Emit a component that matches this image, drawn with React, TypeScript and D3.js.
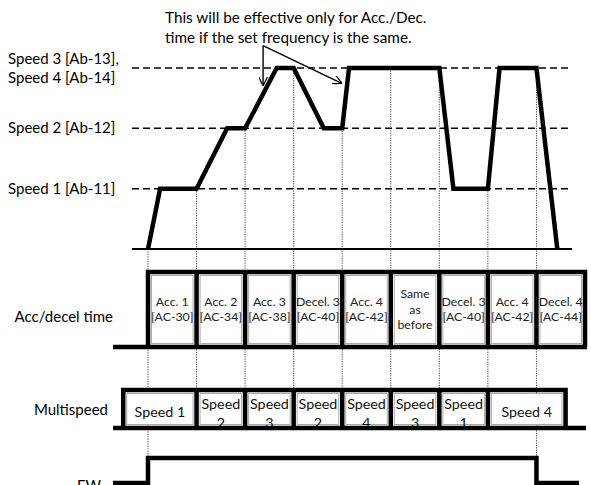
import React from "react";
import * as d3 from "d3";

// ---- data ----
const boundaries = [0, 1, 2, 3, 4, 5, 6, 7, 8, 9];
const profileT = [0, 0.25, 1, 1.63, 2, 2.65, 3, 3.62, 4, 4.14, 6, 6.29, 7, 7.24, 8, 8.43];
const profileLevel = [0, 1, 1, 2, 2, 3, 3, 2, 2, 3, 3, 1, 1, 3, 3, 0];
const markerT = [0, 1, 2, 3, 4, 5, 6, 7, 8];
const markerLevel = [0, 1, 2, 3, 2, 3, 3, 1, 3];
const markerLong = [true, false, false, false, false, false, false, false, true];
const levelValues = [1, 2, 3];
const levelLabels = [["Speed 1 [Ab-11]"], ["Speed 2 [Ab-12]"], ["Speed 3 [Ab-13],", "Speed 4 [Ab-14]"]];
const accLabels = [
  ["Acc. 1", "[AC-30]"],
  ["Acc. 2", "[AC-34]"],
  ["Acc. 3", "[AC-38]"],
  ["Decel. 3", "[AC-40]"],
  ["Acc. 4", "[AC-42]"],
  ["Same", "as", "before"],
  ["Decel. 3", "[AC-40]"],
  ["Acc. 4", "[AC-42]"],
  ["Decel. 4", "[AC-44]"],
];
const msBounds = [-0.51, 1, 2, 3, 4, 5, 6, 7, 8.6];
const msLabels = ["Speed 1", "Speed 2", "Speed 3", "Speed 2", "Speed 4", "Speed 3", "Speed 1", "Speed 4"];
const fwOn = 0;
const fwOff = 8;
const noteLines = ["This will be effective only for Acc./Dec.", "time if the set frequency is the same."];
const noteApex = [2.37, 3.37];
const noteTargets = [[2.37, 2.72], [3.98, 2.75]];

const FONT = "Lato, 'Open Sans', sans-serif";

export default function App() {
  const x = d3.scaleLinear().domain([0, 9]).range([148, 585]);
  const y = d3.scaleLinear().domain([0, 3]).range([249, 68]);

  const accTop = 272, accBot = 347;
  const msTop = 390, msBot = 428;
  const fwHigh = 458, fwLow = 483;
  const leftEdge = 113;

  const profile = d3.line<number>()
    .x((_, i) => x(profileT[i]))
    .y((_, i) => y(profileLevel[i]))(profileT.map((_, i) => i)) as string;

  const accOutline = d3.line<[number, number]>()([
    [x(0), accBot], [x(0), accTop], [x(9), accTop], [x(9), accBot],
  ]) as string;

  const msOutline = d3.line<[number, number]>()([
    [x(msBounds[0]), msBot], [x(msBounds[0]), msTop],
    [x(msBounds[msBounds.length - 1]), msTop], [x(msBounds[msBounds.length - 1]), msBot],
  ]) as string;

  const fwPath = d3.line<[number, number]>()([
    [leftEdge, fwLow], [x(fwOn), fwLow], [x(fwOn), fwHigh], [x(fwOff), fwHigh], [x(fwOff), fwLow], [579, fwLow],
  ]) as string;

  const apex: [number, number] = [x(noteApex[0]), y(noteApex[1])];

  return (
    <svg width={591} height={485} style={{ position: "absolute", left: 0, top: 0, background: "#fff" }}
      fontFamily={FONT}>
      <defs>
        <marker id="ah" viewBox="0 0 10 10" refX={9} refY={5} markerWidth={9} markerHeight={9} orient="auto" markerUnits="userSpaceOnUse">
          <path d="M0,0 L10,5 L0,10" fill="none" stroke="#000" strokeWidth={1.4} />
        </marker>
        {msLabels.map((_, i) => (
          <clipPath id={`msc${i}`} key={i}>
            <rect x={x(msBounds[i])} y={msTop} width={x(msBounds[i + 1]) - x(msBounds[i])} height={msBot - msTop} />
          </clipPath>
        ))}
      </defs>

      {/* dotted verticals */}
      {markerT.map((t, i) => (
        <line key={i} x1={x(t)} x2={x(t)} y1={y(markerLevel[i])} y2={markerLong[i] ? fwHigh : msTop}
          stroke="#444" strokeWidth={1} strokeDasharray="1.2,1.2" />
      ))}

      {/* dashed level lines */}
      {levelValues.map((lv) => (
        <line key={lv} x1={132} x2={572} y1={y(lv)} y2={y(lv)} stroke="#000" strokeWidth={1.5} strokeDasharray="7,4" />
      ))}
      {/* speed baseline */}
      <line x1={132} x2={572} y1={y(0)} y2={y(0)} stroke="#000" strokeWidth={2} />

      {/* level labels */}
      {levelValues.map((lv, i) => {
        const lines = levelLabels[i];
        const off = lines.length === 1 ? 0 : -9;
        return (
          <text key={lv} x={8} fontSize={15} fill="#000">
            {lines.map((s, j) => (
              <tspan key={j} x={8} y={y(lv) + off + j * 19 + 5}>{s}</tspan>
            ))}
          </text>
        );
      })}

      {/* speed profile */}
      <path d={profile} fill="none" stroke="#000" strokeWidth={4.5} strokeLinejoin="miter" />

      {/* annotation */}
      <text x={165} y={23} fontSize={15.3} fill="#000">{noteLines[0]}</text>
      <text x={165} y={43} fontSize={15.3} fill="#000">{noteLines[1]}</text>
      {noteTargets.map((tg, i) => (
        <line key={i} x1={apex[0]} y1={apex[1]} x2={x(tg[0])} y2={y(tg[1])} stroke="#000" strokeWidth={1.4} markerEnd="url(#ah)" />
      ))}

      {/* Acc/decel panel */}
      <text x={113} y={322} fontSize={15} textAnchor="end" fill="#000">Acc/decel time</text>
      {accLabels.map((lab, i) => {
        const x0 = x(boundaries[i]), x1 = x(boundaries[i + 1]);
        const cx = (x0 + x1) / 2;
        const cy = (accTop + accBot) / 2;
        const lh = 15.5;
        const start = cy - ((lab.length - 1) * lh) / 2;
        return (
          <g key={i}>
            <rect x={x0 + 3.5} y={accTop + 3.5} width={x1 - x0 - 7} height={accBot - accTop - 7} fill="#fff" stroke="#aaa" strokeWidth={1} />
            <text textAnchor="middle" fontSize={12.3} fill="#222">
              {lab.map((s, j) => (
                <tspan key={j} x={cx} y={start + j * lh + 4}>{s}</tspan>
              ))}
            </text>
          </g>
        );
      })}
      <path d={accOutline} fill="none" stroke="#000" strokeWidth={4.5} />
      {boundaries.slice(1, -1).map((b) => (
        <line key={b} x1={x(b)} x2={x(b)} y1={accTop} y2={accBot} stroke="#000" strokeWidth={4.5} />
      ))}
      <line x1={leftEdge} x2={587} y1={accBot} y2={accBot} stroke="#000" strokeWidth={4.5} />

      {/* Multispeed panel */}
      <text x={108} y={415} fontSize={15} textAnchor="end" fill="#000">Multispeed</text>
      {msLabels.map((lab, i) => {
        const x0 = x(msBounds[i]), x1 = x(msBounds[i + 1]);
        const cx = (x0 + x1) / 2;
        const wide = x1 - x0 > 60;
        const parts = wide ? [lab] : lab.split(" ");
        return (
          <g key={i}>
            <rect x={x0 + 3.5} y={msTop + 3.5} width={x1 - x0 - 7} height={msBot - msTop - 7} fill="#fff" stroke="#aaa" strokeWidth={1} />
            <g clipPath={`url(#msc${i})`}>
              <text textAnchor="middle" fontSize={14.3} fill="#111">
                {parts.map((s, j) => (
                  <tspan key={j} x={cx} y={wide ? 417 : 409 + j * 19}>{s}</tspan>
                ))}
              </text>
            </g>
          </g>
        );
      })}
      <path d={msOutline} fill="none" stroke="#000" strokeWidth={4.5} />
      {msBounds.slice(1, -1).map((b) => (
        <line key={b} x1={x(b)} x2={x(b)} y1={msTop} y2={msBot} stroke="#000" strokeWidth={4.5} />
      ))}
      <line x1={leftEdge} x2={586} y1={msBot} y2={msBot} stroke="#000" strokeWidth={4.5} />

      {/* FW */}
      <text x={77} y={491} fontSize={15} fill="#000">FW</text>
      <path d={fwPath} fill="none" stroke="#000" strokeWidth={4.5} />
    </svg>
  );
}
